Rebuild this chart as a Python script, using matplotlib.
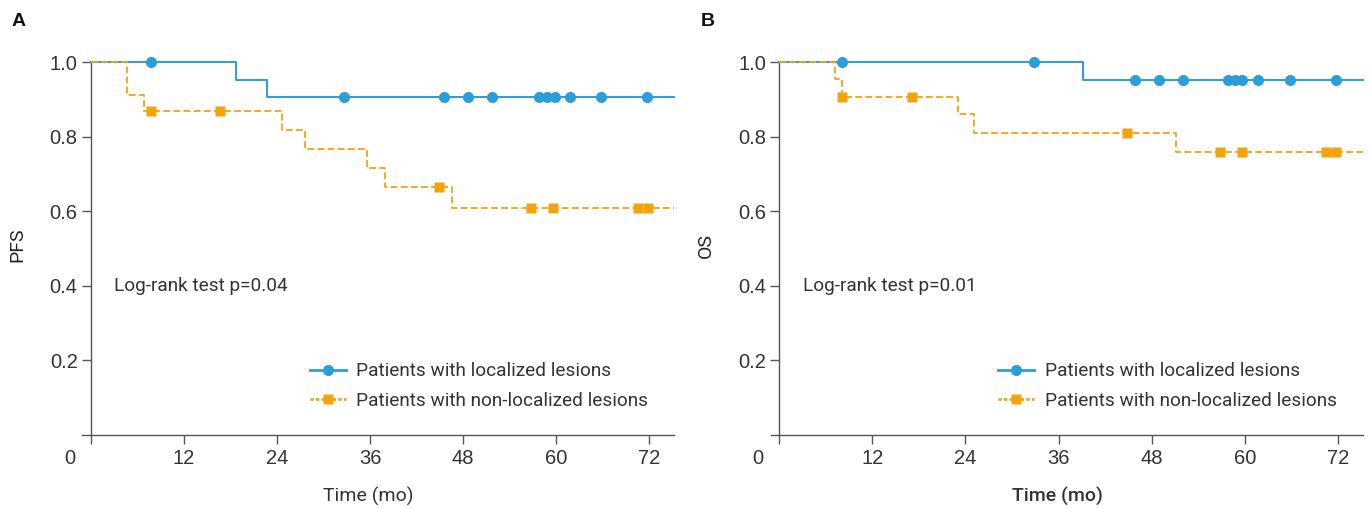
import matplotlib
matplotlib.use('Agg')
import matplotlib.pyplot as plt
from matplotlib.lines import Line2D
import numpy as np

BLUE = '#2b9ed9'
ORANGE = '#f5a30d'

# Panel A - PFS
pfs_loc_times = [0, 18.7, 22.7]
pfs_loc_surv = [1.0, 0.952, 0.906]
pfs_loc_censor = [7.7, 32.6, 45.5, 48.6, 51.7, 57.8, 58.8, 59.9, 61.8, 65.8, 71.7]
pfs_non_times = [0, 4.7, 6.8, 24.7, 27.6, 35.6, 37.9, 46.6]
pfs_non_surv = [1.0, 0.913, 0.870, 0.819, 0.766, 0.717, 0.664, 0.609]
pfs_non_censor = [7.7, 16.7, 44.9, 56.8, 59.6, 70.6, 71.8]

# Panel B - OS
os_loc_times = [0, 39.2]
os_loc_surv = [1.0, 0.952]
os_loc_censor = [8.1, 32.8, 45.8, 48.9, 52.0, 57.8, 58.7, 59.7, 61.7, 65.8, 71.7]
os_non_times = [0, 7.2, 8.1, 23.0, 25.1, 51.1]
os_non_surv = [1.0, 0.955, 0.906, 0.862, 0.811, 0.759]
os_non_censor = [8.1, 17.1, 44.8, 56.8, 59.7, 70.5, 71.8]

follow_up_end = 75.2
x_ticks = [0, 12, 24, 36, 48, 60, 72]
y_ticks = [0.2, 0.4, 0.6, 0.8, 1.0]
legend_labels = ['Patients with localized lesions', 'Patients with non-localized lesions']

TEXT_FONT = 'Roboto'
TICK_FONT = 'Liberation Sans'


def surv_at(times, surv, points):
    idx = np.searchsorted(times, points, side='right') - 1
    return np.array(surv)[idx]


def draw_curve(ax, times, surv, censor, color, ls, lw, marker, ms):
    t = list(times) + [follow_up_end]
    s = list(surv) + [surv[-1]]
    ax.step(t, s, where='post', color=color, ls=ls, lw=lw, clip_on=False, zorder=3)
    ax.plot(censor, surv_at(times, surv, censor), ls='none', marker=marker,
            ms=ms, color=color, mec='none', clip_on=False, zorder=4)


def draw_panel(ax, letter, ylabel, pvalue, loc, non, letter_x, xlabel_weight):
    draw_curve(ax, *loc, BLUE, '-', 1.4, 'o', 8.0)
    draw_curve(ax, *non, ORANGE, (0, (3.8, 1.8)), 1.3, 's', 7.2)

    ax.set_xlim(-1.1, 75.2)
    ax.set_ylim(0, 1.0)
    for side in ('top', 'right'):
        ax.spines[side].set_visible(False)
    ax.spines['left'].set_position(('data', 0))
    ax.spines['left'].set_bounds(0, 1.0)
    for side in ('left', 'bottom'):
        ax.spines[side].set_color('#555555')
        ax.spines[side].set_linewidth(1.0)

    ax.set_xticks(x_ticks)
    ax.set_xticklabels([''] + [str(v) for v in x_ticks[1:]])
    ax.set_yticks(y_ticks)
    ax.set_yticklabels([f'{v:.1f}' for v in y_ticks])
    ax.tick_params(direction='out', length=6.5, width=1.0, color='#555555',
                   labelcolor='#333333', labelsize=14.5)
    ax.tick_params(axis='x', pad=4)
    ax.tick_params(axis='y', pad=3)
    for lbl in ax.get_xticklabels() + ax.get_yticklabels():
        lbl.set_fontfamily(TICK_FONT)
    ax.annotate('0', xy=(0, 0), xycoords='data', xytext=(-15.1, -10.5),
                textcoords='offset points', ha='center', va='top',
                fontsize=14.5, color='#333333', family=TICK_FONT)

    ax.set_xlabel('Time (mo)', fontsize=14, color='#333333', family=TEXT_FONT,
                  weight=xlabel_weight)
    ax.xaxis.set_label_coords(0.484, -0.14)
    ax.set_ylabel(ylabel, fontsize=14, color='#222222', family=TEXT_FONT)
    ax.yaxis.set_label_coords(-0.095, 0.509)

    ax.text(3.0, 0.4, pvalue, fontsize=13.7, color='#333333', family=TEXT_FONT,
            ha='left', va='center')

    handles = [
        Line2D([], [], color=BLUE, lw=2.0, marker='o', ms=8.0, mec='none'),
        Line2D([], [], color=ORANGE, lw=2.0, ls=(0, (1.2, 0.8)), marker='s', ms=7.2, mec='none'),
    ]
    leg = ax.legend(handles, legend_labels, loc='center left', bbox_to_anchor=(0.384, 0.13),
                    frameon=False, fontsize=13.7, handlelength=1.9, handletextpad=0.55,
                    labelspacing=0.62, borderpad=0, borderaxespad=0)
    for txt in leg.get_texts():
        txt.set_color('#333333')
        txt.set_fontfamily(TEXT_FONT)

    ax.figure.text(letter_x, 1 - 22 / 508, letter, fontsize=14, weight='bold',
                   color='#111111', family='Liberation Sans', va='center', ha='left')


def main():
    fig = plt.figure(figsize=(13.72, 5.08), dpi=100)
    bottom = 1 - 434.5 / 508
    top = 1 - 62.3 / 508
    ax_a = fig.add_axes([82.3 / 1372, bottom, 591.7 / 1372, top - bottom])
    ax_b = fig.add_axes([770.7 / 1372, bottom, 592.0 / 1372, top - bottom])

    draw_panel(ax_a, 'A', 'PFS', 'Log-rank test p=0.04',
               (pfs_loc_times, pfs_loc_surv, pfs_loc_censor),
               (pfs_non_times, pfs_non_surv, pfs_non_censor), 12 / 1372, 'normal')
    draw_panel(ax_b, 'B', 'OS', 'Log-rank test p=0.01',
               (os_loc_times, os_loc_surv, os_loc_censor),
               (os_non_times, os_non_surv, os_non_censor), 701 / 1372, 'medium')

    fig.savefig('out.png', dpi=100)


if __name__ == '__main__':
    main()
